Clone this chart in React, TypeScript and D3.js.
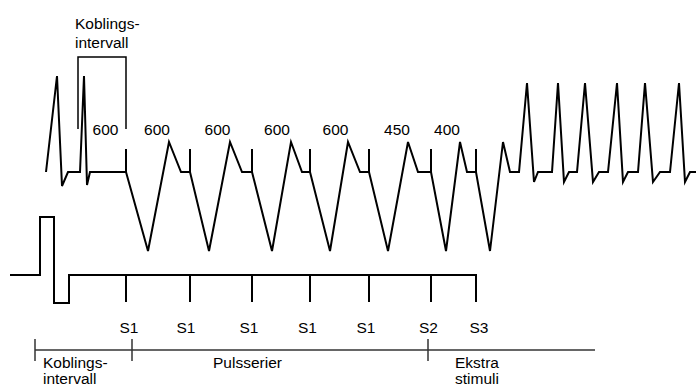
import React from "react";
import * as d3 from "d3";

// ---- data (time units along the strip, amplitude units) ----
// Intrinsic (sinus) beats before pacing: [time, amplitude]
const sinusBeats: [number, number][] = [
  [46, 0], [57, 9.6], [62, -1.4], [68, 0], [80, 0], [84, 9.6], [87, -1.3], [90, 0],
];
// Stimulus times: S1 x5, S2, S3
const stimTimes = [126, 190, 252, 310, 369, 431, 476];
const stimNames = ["S1", "S1", "S1", "S1", "S1", "S2", "S3"];
const stimLabelTimes = [129, 186, 249, 307.5, 366, 428.5, 479];
// Paced complex landmarks after each stimulus
const pacedTrough = [148, 209, 272, 330, 388, 446, 490];
const pacedPeak = [169, 230, 291, 348, 408, 460, 503];
const pacedReturn = [181, 242, 302, 360, 418, 467, 510];
const pacedTroughAmp = -7.9;
const pacedPeakAmp = 3.0;
const spikeAmp = 2.3;
// Induced tachycardia beats
const tachyStart = [519, 552, 577, 608, 638, 670];
const tachyPeak = [527, 558, 585, 617, 645, 679];
const tachyTrough = [534, 564, 593, 623, 653, 685];
const tachyReturn = [538, 569, 599, 628, 660, 690];
const tachyPeakAmp = 8.9;
const tachyTroughAmp = -1.0;
const traceEnd = 696;
// Interval labels (ms)
const intervalLabels = ["600", "600", "600", "600", "600", "450", "400"];
const intervalLabelTimes = [105.5, 157, 217.5, 277, 335.5, 397, 447];
// Stimulator output trace
const stimTrace: [number, number][] = [
  [10, 0], [40, 0], [40, 5.8], [54, 5.8], [54, -2.8], [69, -2.8], [69, 0], [476, 0], [476, -2.7],
];
const stimTickAmp = -2.7;
// Bottom timeline
const timelineStart = 35;
const timelineEnd = 595;
const timelineTicks = [35, 132, 428];
const phaseLabels = [
  { lines: ["Koblings-", "intervall"], t: 43 },
  { lines: ["Pulsserier"], t: 213 },
  { lines: ["Ekstra", "stimuli"], t: 455 },
];
// Coupling interval bracket on top
const couplingBracket = { from: 78, to: 126 };
const couplingLabel = ["Koblings-", "intervall"];

export default function App() {
  const W = 696;
  const H = 388;
  const x = d3.scaleLinear().domain([0, 696]).range([0, 696]);
  const yEcg = d3.scaleLinear().domain([-10, 10]).range([272, 72]);
  const yStim = d3.scaleLinear().domain([-10, 10]).range([375, 175]);

  const line = d3.line<[number, number]>().x((d) => x(d[0])).y((d) => d[1]);

  // Build ECG trace
  const ecgPts: [number, number][] = [...sinusBeats];
  stimTimes.forEach((s, i) => {
    ecgPts.push([s, 0]);
    ecgPts.push([pacedTrough[i], pacedTroughAmp]);
    ecgPts.push([pacedPeak[i], pacedPeakAmp]);
    ecgPts.push([pacedReturn[i], 0]);
  });
  tachyStart.forEach((s, i) => {
    ecgPts.push([s, 0]);
    ecgPts.push([tachyPeak[i], tachyPeakAmp]);
    ecgPts.push([tachyTrough[i], tachyTroughAmp]);
    ecgPts.push([tachyReturn[i], 0]);
  });
  ecgPts.push([traceEnd, 0]);
  const ecgPath = line(ecgPts.map((d) => [d[0], yEcg(d[1])] as [number, number]));
  const stimPath = line(stimTrace.map((d) => [d[0], yStim(d[1])] as [number, number]));

  const font = "'Liberation Sans', Arial, sans-serif";
  const fs = 15.5;

  return (
    <svg
      width={W}
      height={H}
      style={{ position: "absolute", left: 0, top: 0, background: "#fff" }}
      fontFamily={font}
    >
      <rect width={W} height={H} fill="#fff" />
      {/* coupling bracket */}
      <path
        d={`M${x(couplingBracket.from)},129 V57 H${x(couplingBracket.to)} V129`}
        fill="none"
        stroke="#000"
        strokeWidth={1.5}
      />
      {couplingLabel.map((t, i) => (
        <text key={t} x={75} y={29 + i * 19} fontSize={fs} fill="#000">
          {t}
        </text>
      ))}
      {/* interval labels */}
      {intervalLabelTimes.map((t, i) => (
        <text key={i} x={x(t)} y={135} fontSize={fs} textAnchor="middle" fill="#000">
          {intervalLabels[i]}
        </text>
      ))}
      {/* ECG trace */}
      <path d={ecgPath ?? ""} fill="none" stroke="#000" strokeWidth={2} strokeLinejoin="miter" />
      {/* pacing spikes */}
      {stimTimes.map((s, i) => (
        <line key={i} x1={x(s)} x2={x(s)} y1={yEcg(0)} y2={yEcg(spikeAmp)} stroke="#000" strokeWidth={2} />
      ))}
      {/* stimulator trace */}
      <path d={stimPath ?? ""} fill="none" stroke="#000" strokeWidth={2} />
      {stimTimes.slice(0, -1).map((s, i) => (
        <line key={i} x1={x(s)} x2={x(s)} y1={yStim(0)} y2={yStim(stimTickAmp)} stroke="#000" strokeWidth={2} />
      ))}
      {stimNames.map((n, i) => (
        <text key={i} x={x(stimLabelTimes[i])} y={333} fontSize={fs} textAnchor="middle" fill="#000">
          {n}
        </text>
      ))}
      {/* timeline */}
      <line x1={x(timelineStart)} x2={x(timelineEnd)} y1={350} y2={350} stroke="#333" strokeWidth={1.5} />
      {timelineTicks.map((t, i) => (
        <line key={i} x1={x(t)} x2={x(t)} y1={339} y2={361} stroke="#333" strokeWidth={1.5} />
      ))}
      {phaseLabels.map((p, i) =>
        p.lines.map((l, j) => (
          <text key={`${i}-${j}`} x={x(p.t)} y={368 + j * 16} fontSize={fs} fill="#000">
            {l}
          </text>
        ))
      )}
    </svg>
  );
}
